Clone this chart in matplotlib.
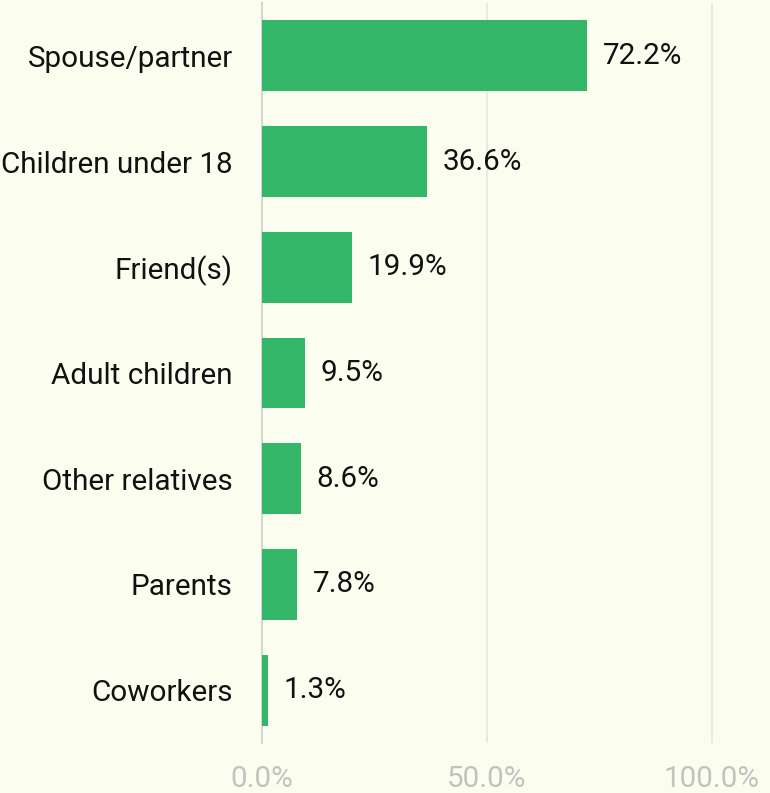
import matplotlib.pyplot as plt

# data
categories = ['Spouse/partner', 'Children under 18', 'Friend(s)', 'Adult children',
              'Other relatives', 'Parents', 'Coworkers']
values = [72.2, 36.6, 19.9, 9.5, 8.6, 7.8, 1.3]
xticks = [0, 50, 100]
xtick_labels = ['0.0%', '50.0%', '100.0%']

bg = '#FBFEEF'
bar_color = '#33B668'
fs = 21.3

plt.rcParams['font.family'] = ['Roboto', 'DejaVu Sans']

fig = plt.figure(figsize=(7.7, 7.93), dpi=100, facecolor=bg)
ax = fig.add_axes([262 / 770, 50 / 793, 508 / 770, 740 / 793], facecolor=bg)

y = list(range(len(categories)))
ax.barh(y, values, height=0.67, color=bar_color, zorder=3)

# value labels just right of each bar
for yi, v in zip(y, values):
    ax.text(v + 3.5, yi, f'{v:.1f}%', va='center', ha='left', fontsize=fs, color='#111111')

ax.set_xlim(0, 112.9)
ax.set_ylim(6.5, -0.5)
ax.set_yticks(y)
ax.set_yticklabels(categories, fontsize=fs, color='#111111')
ax.set_xticks(xticks)
ax.set_xticklabels(xtick_labels, fontsize=fs, color='#C2C2C2')
ax.tick_params(axis='y', length=0, pad=21)
ax.tick_params(axis='x', length=0, pad=16)

ax.grid(axis='x', color='#E6E6E6', linewidth=1.2, zorder=0)
for s in ['top', 'right', 'bottom']:
    ax.spines[s].set_visible(False)
ax.spines['left'].set_color('#D6D6D6')
ax.spines['left'].set_linewidth(1.5)

fig.savefig('out.png', dpi=100, facecolor=bg)
